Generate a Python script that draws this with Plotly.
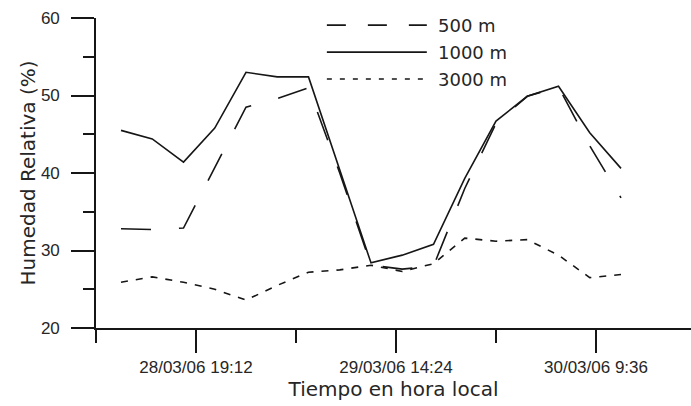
import plotly.graph_objects as go

# Observation times (local time), every 3 hours
times = [
    "2006-03-28 12:00", "2006-03-28 15:00", "2006-03-28 18:00", "2006-03-28 21:00",
    "2006-03-29 00:00", "2006-03-29 03:00", "2006-03-29 06:00", "2006-03-29 09:00",
    "2006-03-29 12:00", "2006-03-29 15:00", "2006-03-29 18:00", "2006-03-29 21:00",
    "2006-03-30 00:00", "2006-03-30 03:00", "2006-03-30 06:00", "2006-03-30 09:00",
    "2006-03-30 12:00",
]

# Relative humidity (%) at each level
rh_500 = [32.8, 32.7, 32.9, 40.8, 48.5, 49.6, 51.0, 40.0, 28.1, 27.6, 28.0,
          38.0, 46.4, 49.9, 51.1, 43.5, 36.8]
rh_1000 = [45.5, 44.4, 41.4, 45.8, 53.0, 52.4, 52.4, 40.4, 28.4, 29.4, 30.8,
           39.3, 46.7, 49.9, 51.2, 45.2, 40.6]
rh_3000 = [25.9, 26.6, 25.9, 25.0, 23.6, 25.5, 27.2, 27.5, 28.1, 27.3, 28.3,
           31.6, 31.2, 31.4, 29.4, 26.5, 26.9]

series_names = ["500 m", "1000 m", "3000 m"]

# Axis ticks
x_major = ["2006-03-28 19:12", "2006-03-29 14:24", "2006-03-30 09:36"]
x_major_text = ["28/03/06 19:12", "29/03/06 14:24", "30/03/06 9:36"]
x_minor = ["2006-03-28 09:36", "2006-03-29 04:48", "2006-03-30 00:00"]
y_major = [20, 30, 40, 50, 60]
y_minor = [25, 35, 45, 55]

INK = "#161616"
TXT = "#262626"
TICK_FONT = dict(family="Liberation Sans, Arial, sans-serif", size=17, color=TXT)
TITLE_FONT = dict(family="DejaVu Sans, Verdana, sans-serif", size=20, color=TXT)

data_dash = ["30px,28px", "solid", "7px,8px"]
legend_dash = ["19px,22px", "solid", "5px,8px"]

fig = go.Figure()
for name, vals, dash in zip(series_names, [rh_500, rh_1000, rh_3000], data_dash):
    fig.add_trace(go.Scatter(
        x=times, y=vals, mode="lines", name=name, showlegend=False,
        line=dict(color=INK, width=1.6, dash=dash),
    ))

# Hand-drawn key: long line samples with labels
legend_rows = [0.977, 0.890, 0.803]
for name, dash, yy in zip(series_names, legend_dash, legend_rows):
    fig.add_shape(type="line", xref="paper", yref="paper",
                  x0=0.388, x1=0.556, y0=yy, y1=yy,
                  line=dict(color=INK, width=1.6, dash=dash))
    fig.add_annotation(xref="paper", yref="paper", x=0.572, y=yy,
                       text=name, showarrow=False, xanchor="left",
                       yanchor="middle",
                       font=dict(family="DejaVu Sans, Verdana, sans-serif",
                                 size=18, color=TXT))

fig.update_layout(
    width=691, height=406,
    margin=dict(l=96, r=0, t=18, b=78),
    paper_bgcolor="white", plot_bgcolor="white",
    showlegend=False,
)

fig.update_xaxes(
    type="date",
    range=["2006-03-28 09:36", "2006-03-30 18:43:12"],
    tickmode="array", tickvals=x_major, ticktext=x_major_text,
    ticks="outside", ticklen=23, tickwidth=1.5, tickcolor=INK,
    showline=True, linecolor=INK, linewidth=1.6,
    showgrid=False, zeroline=False,
    tickfont=TICK_FONT,
    minor=dict(tickmode="array", tickvals=x_minor, ticks="outside",
               ticklen=13, tickwidth=1.5, tickcolor=INK, showgrid=False),
    title=dict(text="Tiempo en hora local", font=TITLE_FONT, standoff=3),
)

fig.update_yaxes(
    range=[20, 60],
    tickmode="array", tickvals=y_major,
    ticks="outside", ticklen=23, tickwidth=1.5, tickcolor=INK,
    showline=True, linecolor=INK, linewidth=1.6,
    showgrid=False, zeroline=False,
    tickfont=TICK_FONT, ticklabelstandoff=8,
    minor=dict(tickmode="array", tickvals=y_minor, ticks="outside",
               ticklen=11, tickwidth=1.5, tickcolor=INK, showgrid=False),
    title=dict(text="Humedad Relativa (%)", font=TITLE_FONT, standoff=0),
)

fig.write_html("out.html")
